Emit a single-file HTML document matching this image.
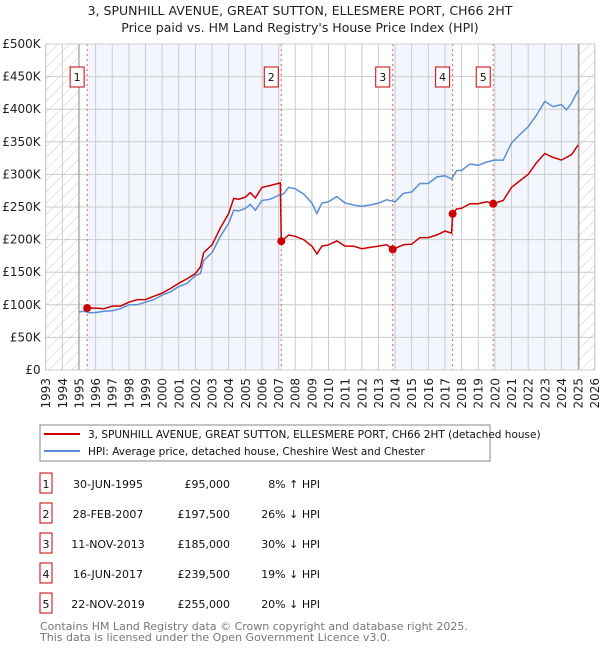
<!DOCTYPE html>
<html><head><meta charset="utf-8"><style>
body{margin:0;background:#fff;font-family:"DejaVu Sans","Liberation Sans",sans-serif;}
svg text{font-family:"DejaVu Sans","Liberation Sans",sans-serif;}
</style></head><body>
<svg id="chart" width="600" height="650" viewBox="0 0 600 650">
<defs><pattern id="hatch" width="8" height="8" patternUnits="userSpaceOnUse" patternTransform="rotate(45)"><line x1="0" y1="0" x2="0" y2="8" stroke="#ccc" stroke-width="1"/></pattern></defs>
<text x="300" y="15" text-anchor="middle" font-size="12.5" fill="#222">3, SPUNHILL AVENUE, GREAT SUTTON, ELLESMERE PORT, CH66 2HT</text>
<text x="300" y="32" text-anchor="middle" font-size="12.5" fill="#222">Price paid vs. HM Land Registry's House Price Index (HPI)</text>
<g id="plot"></g>
<rect x="40" y="425" width="450" height="36" fill="#fff" stroke="#888"/>
<line x1="44" y1="434" x2="80" y2="434" stroke="#cc0000" stroke-width="2"/>
<text x="88" y="438" font-size="10.5" fill="#111">3, SPUNHILL AVENUE, GREAT SUTTON, ELLESMERE PORT, CH66 2HT (detached house)</text>
<line x1="44" y1="451" x2="80" y2="451" stroke="#5b8fd4" stroke-width="2"/>
<text x="88" y="455" font-size="10.5" fill="#111">HPI: Average price, detached house, Cheshire West and Chester</text>
<g id="table"></g>
<text x="40" y="630" font-size="11" fill="#777">Contains HM Land Registry data © Crown copyright and database right 2025.</text>
<text x="40" y="641" font-size="11" fill="#777">This data is licensed under the Open Government Licence v3.0.</text>
</svg>
<script>
const hpiYears=[1995,1995.3,1995.6,1996,1996.5,1997,1997.5,1998,1998.5,1999,1999.5,2000,2000.5,2001,2001.5,2002,2002.3,2002.5,2003,2003.5,2004,2004.3,2004.6,2005,2005.3,2005.6,2006,2006.5,2007,2007.3,2007.6,2008,2008.5,2009,2009.3,2009.6,2010,2010.5,2011,2011.5,2012,2012.5,2013,2013.5,2014,2014.5,2015,2015.5,2016,2016.5,2017,2017.4,2017.7,2018,2018.5,2019,2019.5,2020,2020.5,2021,2021.5,2022,2022.5,2023,2023.5,2024,2024.3,2024.6,2025];
const hpiValues=[89,90,88,88,90,91,94,100,100,104,108,115,120,128,133,145,148,168,180,205,225,245,244,248,254,245,260,262,268,270,280,278,270,256,240,256,258,266,256,253,251,253,256,261,258,271,273,286,286,296,298,293,306,306,316,314,319,322,322,348,361,373,391,412,404,407,399,409,429];
const priceYears=[1995.5,1996,1996.5,1997,1997.5,1998,1998.5,1999,1999.5,2000,2000.5,2001,2001.5,2002,2002.3,2002.5,2003,2003.5,2004,2004.3,2004.6,2005,2005.3,2005.6,2006,2006.5,2007.1,2007.16,2007.6,2008,2008.5,2009,2009.3,2009.6,2010,2010.5,2011,2011.5,2012,2012.5,2013,2013.5,2013.86,2014.5,2015,2015.5,2016,2016.5,2017,2017.4,2017.46,2017.7,2018,2018.5,2019,2019.5,2019.9,2020.5,2021,2021.5,2022,2022.5,2023,2023.5,2024,2024.3,2024.6,2025];
const priceValues=[95,95,94,98,98,104,108,108,113,118,125,133,140,148,158,180,192,218,240,263,262,265,272,264,280,283,287,197.5,207,205,200,190,178,190,192,198,190,190,186,188,190,192,185,192,193,203,203,207,213,210,239.5,247,248,255,255,258,255,260,280,290,300,318,332,326,322,326,330,345];
const saleLabels=["1","2","3","4","5"];
const saleYears=[1995.49,2007.16,2013.86,2017.46,2019.9];
const salePrices=[95000,197500,185000,239500,255000];
const saleDates=["30-JUN-1995","28-FEB-2007","11-NOV-2013","16-JUN-2017","22-NOV-2019"];
const saleHpi=["8% \u2191 HPI","26% \u2193 HPI","30% \u2193 HPI","19% \u2193 HPI","20% \u2193 HPI"];
const yTicks=[0,50,100,150,200,250,300,350,400,450,500];
const yTickLabels=["£0","£50K","£100K","£150K","£200K","£250K","£300K","£350K","£400K","£450K","£500K"];
const xTicks=[1993,1994,1995,1996,1997,1998,1999,2000,2001,2002,2003,2004,2005,2006,2007,2008,2009,2010,2011,2012,2013,2014,2015,2016,2017,2018,2019,2020,2021,2022,2023,2024,2025,2026];

const NS="http://www.w3.org/2000/svg";
const L=45.7,R=594.7,T=44,B=370;
const x=y=>L+(y-1993)*(R-L)/33;
const yv=v=>B-v*(B-T)/500;
function mk(tag,attrs,parent){const e=document.createElementNS(NS,tag);for(const k in attrs)e.setAttribute(k,attrs[k]);parent.appendChild(e);return e;}
const g=document.getElementById('plot');
let e;
e=mk('rect',{x:L,y:T,width:R-L,height:B-T,fill:'#fff'},g);


const shadeStarts=[saleYears[0],saleYears[2],saleYears[4]];
const shadeEnds=[saleYears[1],saleYears[3],2025.05];
for(let i=0;i<shadeStarts.length;i++){
 e=mk('rect',{x:x(shadeStarts[i]),y:T,width:x(shadeEnds[i])-x(shadeStarts[i]),height:B-T,fill:'#f3f6fd'},g);
 
 
}
e=mk('rect',{x:L,y:T,width:x(1995)-L,height:B-T,fill:'url(#hatch)'},g);


e=mk('rect',{x:x(2025.05),y:T,width:R-x(2025.05),height:B-T,fill:'url(#hatch)'},g);


yTicks.forEach((t,i)=>{
 e=mk('line',{x1:L,x2:R,y1:yv(t),y2:yv(t),stroke:'#ccc','stroke-width':1},g);
 
 
 e=mk('text',{x:L-5,y:yv(t)+4,'text-anchor':'end','font-size':12,fill:'#222'},g);
 e.textContent=yTickLabels[i];
 
 
});
xTicks.forEach(t=>{
 e=mk('line',{x1:x(t),x2:x(t),y1:T,y2:B,stroke:'#ccc','stroke-width':1},g);
 
 
 e=mk('text',{x:0,y:0,'text-anchor':'end','font-size':12,fill:'#222',transform:`translate(${x(t)+4.5},378) rotate(-90)`},g);
 e.textContent=t;
 
 
});
e=mk('line',{x1:x(1995),x2:x(1995),y1:T,y2:B,stroke:'#888','stroke-width':1},g);


e=mk('line',{x1:x(2025.05),x2:x(2025.05),y1:T,y2:B,stroke:'#888','stroke-width':1},g);


saleYears.forEach(s=>{
 e=mk('line',{x1:x(s),x2:x(s),y1:T,y2:B,stroke:'#e06060','stroke-width':1,'stroke-dasharray':'2,3'},g);
 
 
});
function path(xs,vs){return xs.map((t,i)=>(i?'L':'M')+x(t).toFixed(1)+','+yv(vs[i]).toFixed(1)).join(' ');}
e=mk('path',{d:path(hpiYears,hpiValues),fill:'none',stroke:'#5b8fd4','stroke-width':1.5},g);


e=mk('path',{d:path(priceYears,priceValues),fill:'none',stroke:'#cc0000','stroke-width':1.5},g);


saleYears.forEach((s,i)=>{
 e=mk('circle',{cx:x(s),cy:yv(salePrices[i]/1000),r:4,fill:'#cc0000'},g);
 
 
 e=mk('rect',{x:x(s)-17,y:67,width:14,height:20,fill:'#fff',stroke:'#cc0000'},g);
 
 
 e=mk('text',{x:x(s)-10,y:81,'text-anchor':'middle','font-size':11,fill:'#111'},g);
 e.textContent=saleLabels[i];
 
 
});
e=mk('rect',{x:L,y:T,width:R-L,height:B-T,fill:'none',stroke:'#ccc'},g);


const tb=document.getElementById('table');
saleLabels.forEach((lab,i)=>{
 const yy=488+i*30;
 e=mk('rect',{x:40,y:yy-15,width:12,height:20,fill:'#fff',stroke:'#cc0000'},tb);
 
 
 e=mk('text',{x:46,y:yy,'text-anchor':'middle','font-size':11,fill:'#111'},tb);
 e.textContent=lab;
 
 
 e=mk('text',{x:108,y:yy,'text-anchor':'middle','font-size':11,fill:'#111'},tb);
 e.textContent=saleDates[i];
 
 
 e=mk('text',{x:230,y:yy,'text-anchor':'end','font-size':11,fill:'#111'},tb);
 e.textContent='£'+salePrices[i].toLocaleString('en-GB');
 
 
 e=mk('text',{x:320,y:yy,'text-anchor':'end','font-size':11,fill:'#111'},tb);
 e.textContent=saleHpi[i];
 
 
});
</script>
</body></html>
